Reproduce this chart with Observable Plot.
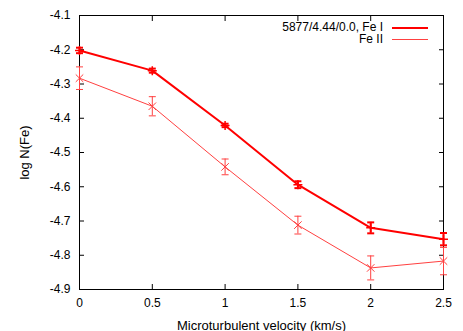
<!DOCTYPE html>
<html>
<head>
<meta charset="utf-8">
<script src="https://cdn.jsdelivr.net/npm/d3@7"></script>
<script src="https://cdn.jsdelivr.net/npm/@observablehq/plot@0.6"></script>
<style>
  html, body { margin: 0; padding: 0; background: white; }
  #wrap { position: relative; width: 463px; height: 331px; font-family: "Liberation Sans", Arial, sans-serif; font-size: 12px; }
  .legend { position: absolute; right: 35px; top: 22px; }
  .row { display: flex; align-items: center; justify-content: flex-end; height: 11.5px; line-height: 11.5px; }
  .sw { display: inline-block; width: 36px; margin-left: 9px; }
  g[aria-label="x-axis label"], g[aria-label="y-axis label"] { font-size: 13px; }
</style>
</head>
<body>
<div id="wrap"></div>
<script>
const velocity = [0, 0.5, 1, 1.5, 2, 2.5];
const feI = [-4.202, -4.261, -4.421, -4.594, -4.720, -4.753];
const feIErr = [0.008, 0.006, 0.005, 0.010, 0.016, 0.018];
const feII = [-4.283, -4.365, -4.542, -4.712, -4.837, -4.817];
const feIIErr = [0.033, 0.028, 0.023, 0.026, 0.035, 0.040];
const xTicks = [0, 0.5, 1, 1.5, 2, 2.5];
const yTicks = [-4.9, -4.8, -4.7, -4.6, -4.5, -4.4, -4.3, -4.2, -4.1];
const seriesNames = ["5877/4.44/0.0, Fe I", "Fe II"];
const colorI = "#ff0000";
const colorII = "#ff4040";

const dI = velocity.map((v, i) => ({x: v, y: feI[i], e: feIErr[i]}));
const dII = velocity.map((v, i) => ({x: v, y: feII[i], e: feIIErr[i]}));

const cap = {
  draw(ctx, size) {
    const r = Math.sqrt(size / Math.PI);
    ctx.moveTo(-r, 0);
    ctx.lineTo(r, 0);
  }
};

function errMarks(data, color, sw) {
  return [
    Plot.ruleX(data, {x: "x", y1: d => d.y - d.e, y2: d => d.y + d.e, stroke: color, strokeWidth: sw}),
    Plot.dot(data, {x: "x", y: d => d.y - d.e, symbol: cap, r: 3.5, stroke: color, strokeWidth: sw, fill: "none"}),
    Plot.dot(data, {x: "x", y: d => d.y + d.e, symbol: cap, r: 3.5, stroke: color, strokeWidth: sw, fill: "none"})
  ];
}

const chart = Plot.plot({
  width: 463,
  height: 331,
  marginLeft: 79,
  marginRight: 20,
  marginTop: 15,
  marginBottom: 42,
  style: {fontFamily: "'Liberation Sans', Arial, sans-serif", fontSize: "12px", background: "white", color: "black"},
  x: {domain: [0, 2.5]},
  y: {domain: [-4.9, -4.1]},
  marks: [
    Plot.axisX({anchor: "bottom", ticks: xTicks, tickSize: 0, tickPadding: 9, tickFormat: d => String(d),
      label: "Microturbulent velocity (km/s)", labelAnchor: "center", labelArrow: "none", labelOffset: 40}),
    Plot.axisX({anchor: "bottom", ticks: xTicks, tickSize: 5, dy: -5, fill: "none", label: null}),
    Plot.axisX({anchor: "top", ticks: xTicks, tickSize: 5, dy: 5, fill: "none", label: null}),
    Plot.axisY({anchor: "left", ticks: yTicks, tickSize: 0, tickPadding: 9, tickFormat: d => d.toFixed(1),
      label: "log N(Fe)", labelAnchor: "center", labelArrow: "none", labelOffset: 60}),
    Plot.axisY({anchor: "left", ticks: yTicks, tickSize: 5, dx: 5, fill: "none", label: null}),
    Plot.axisY({anchor: "right", ticks: yTicks, tickSize: 5, dx: -5, fill: "none", label: null}),
    Plot.frame({stroke: "black"}),
    Plot.line(dII, {x: "x", y: "y", stroke: colorII, strokeWidth: 1}),
    ...errMarks(dII, colorII, 1),
    Plot.dot(dII, {x: "x", y: "y", symbol: "times", r: 3.5, stroke: colorII, strokeWidth: 1}),
    Plot.line(dI, {x: "x", y: "y", stroke: colorI, strokeWidth: 2}),
    ...errMarks(dI, colorI, 2),
    Plot.dot(dI, {x: "x", y: "y", symbol: "plus", r: 3, stroke: colorI, strokeWidth: 1.5})
  ]
});

const wrap = document.getElementById("wrap");
wrap.appendChild(chart);
const legend = document.createElement("div");
legend.className = "legend";
[[seriesNames[0], colorI, 2], [seriesNames[1], colorII, 1]].forEach(([name, c, w]) => {
  const row = document.createElement("div");
  row.className = "row";
  const t = document.createElement("span");
  t.textContent = name;
  const s = document.createElement("span");
  s.className = "sw";
  s.style.borderTop = `${w}px solid ${c}`;
  row.appendChild(t);
  row.appendChild(s);
  legend.appendChild(row);
});
wrap.appendChild(legend);
</script>
</body>
</html>
